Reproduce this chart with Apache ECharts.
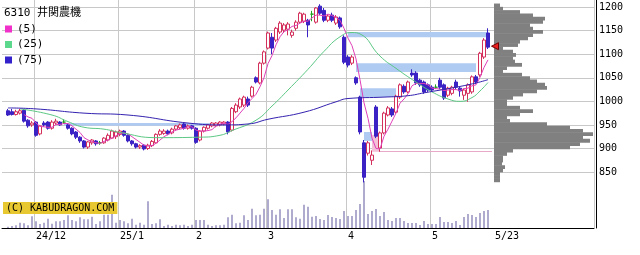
<!DOCTYPE html>
<html><head><meta charset="utf-8">
<script src="https://cdn.jsdelivr.net/npm/echarts@6/dist/echarts.min.js"></script>
<style>html,body{margin:0;padding:0;background:#fff}#c{width:640px;height:255px}</style>
</head><body><div id="c"></div><script>
const dates = ['11/21','11/22','11/25','11/26','11/27','11/28','11/29',
'12/2','12/3','12/4','12/5','12/6','12/9','12/10','12/11','12/12','12/13','12/16','12/17','12/18','12/19','12/20','12/23','12/24','12/25','12/26','12/27','12/30',
'1/6','1/7','1/8','1/9','1/10','1/14','1/15','1/16','1/17','1/20','1/21','1/22','1/23','1/24','1/27','1/28','1/29','1/30','1/31',
'2/3','2/4','2/5','2/6','2/7','2/10','2/12','2/13','2/14','2/17','2/18','2/19','2/20','2/21','2/25','2/26','2/27','2/28',
'3/3','3/4','3/5','3/6','3/7','3/10','3/11','3/12','3/13','3/14','3/17','3/18','3/19','3/21','3/24','3/25','3/26','3/27','3/28','3/31',
'4/1','4/2','4/3','4/4','4/7','4/8','4/9','4/10','4/11','4/14','4/15','4/16','4/17','4/18','4/21','4/22','4/23','4/24','4/25','4/28','4/30',
'5/1','5/2','5/7','5/8','5/9','5/12','5/13','5/14','5/15','5/16','5/19','5/20','5/21','5/22','5/23'];

const open  = [980,978,972,975,981,960,950,956,931,954, 956,943,954,956,956,950,943,935,924,916, 903,912,916,912,912,918,922,925,930,937,
 928,916,910,903,907,900,906,912,930,932, 937,933,941,944,952,943,948,943,918,937, 943,948,948,950,952,956,939,978,988,992,
 1005,1011,1050,1039,1081,1113,1136,1130,1147,1151, 1153,1140,1155,1168,1170,1172,1185,1168,1202,1193, 1172,1183,1166,1177,1136,1094,1081,1050,1009,912,
 890,875,988,901,933,971,984,977,1009,1032, 1020,1060,1060,1045,1041,1035,1030,1030,1045,1035, 1013,1017,1041,1028,1013,1017,1020,1052,1056,1094,1145];
const close = [971,972,978,980,958,948,954,928,948,950, 943,956,958,950,956,943,931,924,916,903, 914,918,910,912,922,928,937,935,937,928,
 916,910,903,906,899,907,915,930,937,937, 931,941,948,950,943,948,943,913,937,945, 950,954,954,956,956,935,985,992,1005,1009,
 992,1030,1041,1081,1105,1145,1113,1155,1166,1162, 1164,1147,1168,1187,1185,1162,1185,1198,1187,1172, 1181,1172,1179,1158,1083,1077,1094,1039,935,839,
 912,886,926,933,975,986,971,1011,1035,1020, 1041,1056,1039,1035,1020,1024,1024,1030,1030,1007, 1028,1030,1030,1022,1024,1035,1052,1041,1102,1130,1115];
const low   = [969,970,970,972,955,944,946,925,928,946, 940,940,950,948,952,940,928,920,912,900, 899,908,906,908,910,915,920,920,926,925,
 913,906,900,899,896,897,903,910,927,929, 928,930,938,941,940,940,940,910,915,934, 940,945,945,947,949,930,936,975,984,988,
 988,1008,1038,1036,1078,1110,1100,1126,1143,1145, 1140,1135,1150,1165,1166,1136,1170,1165,1183,1168, 1168,1168,1162,1154,1079,1072,1077,1035,930,828,
 885,865,922,893,930,968,967,974,1005,1016, 1017,1052,1035,1031,1016,1020,1020,1026,1026,1003, 1009,1013,1026,1010,1003,999,1016,1037,1052,1090,1111];
const high  = [984,984,982,984,984,962,958,958,950,958, 958,960,963,958,962,952,945,937,926,918, 916,920,918,916,924,932,940,938,940,939,
 930,918,912,909,909,910,918,932,941,941, 940,944,950,953,954,951,950,945,939,947, 952,956,956,958,958,958,988,996,1008,1012,
 1010,1033,1053,1084,1108,1148,1145,1158,1170,1166, 1168,1152,1172,1190,1188,1175,1192,1200,1206,1198, 1185,1188,1183,1180,1140,1098,1098,1053,1012,918,
 916,896,992,936,978,990,988,1014,1038,1036, 1044,1068,1064,1048,1044,1038,1034,1036,1050,1038, 1031,1033,1046,1032,1027,1038,1055,1056,1105,1134,1155];
const volume = [1.3,2,2.7,5.3,4.7,2.7,11.7,6.7,4,5.3, 9.3,4.3,6.7,6.7,8,12.7,8,6.7,10.7,8.7,
 8.7,11.3,4,6.7,13.3,13.3,33.3,5.3,8,6.7, 4.7,9.3,3.3,5.3,3.3,26.7,4,4.7,8.7,2,
 3.3,2,3.3,2.7,3.3,2,3.3,8,8,8, 3.3,2,2.7,2.7,3.3,10.7,13.3,4.7,5.3,12.7,
 8,19.3,12.7,13.3,19.3,28.7,18,13.3,18.7,10, 18.7,18.7,10.7,9.3,23.3,21.3,11.3,12,9,8,
 13,11,10,9,17,12,12,18,24,47, 14,17,19,12,16,8,7,10,10,7,
 5,5,5,3,7,4,4,4,11,6, 6,5,7,3,11,14,13,11,15,17,18];
const ma5 = ['-','-','-','-',972,967,964,954,947,946, 945,945,951,951,953,953,948,941,934,923, 918,915,912,911,915,918,922,927,932,933,
 931,925,919,913,907,905,906,911,918,925, 930,935,939,941,943,946,946,939,937,937, 938,940,948,952,954,951,957,965,975,985,
 997,1006,1015,1031,1050,1080,1097,1120,1137,1148, 1152,1159,1161,1166,1170,1170,1177,1183,1183,1181, 1185,1182,1178,1172,1155,1134,1118,1090,1046,997,
 964,922,900,899,926,941,958,975,996,1005, 1016,1033,1038,1038,1038,1035,1028,1027,1026,1023, 1024,1025,1025,1023,1027,1028,1033,1035,1051,1072,1088];
const ma25Idx = [3,11,15,19,24,28,37,48,53,56,62,66,70,75,79,83,86,88,93,97,102,106,110,113,116,118,120];
const ma25Val = [984,971,957,945,941,934,923,924,928,938,960,990,1024,1068,1106,1137,1146,1143,1096,1070,1041,1020,1005,1000,1008,1022,1040];
const ma75Idx = [0,7,19,30,45,54,60,65,74,82,85,94,100,104,112,117,120];
const ma75Val = [986,984,975,971,954,950,952,962,977,999,1006,1009,1012,1018,1030,1039,1046];
const tickDates = ['12/2','1/6','2/3','3/3','4/1','5/1','5/23'];
const tickTexts = ['24/12','25/1','2','3','4','5','5/23'];
const priceMin = 850, priceMax = 1215, priceStep = 50;
const bandStart = [14,85,87,88,89];
const bandEnd   = [55,120,117,97,91];
const bandTop   = [954,1147,1081,1028,935];
const bandBottom= [948,1136,1062,1009,916];
const pinkArea = [91,93,929,893];
const supportLine = [93,121,895];
const lastMark = 1117;
const profilePrice = [1204,1197,1190,1183,1176,1169,1162,1155,1148,1141,1134,1127,1120,1113,1106,1099,1092,1085,1078,1071,1064,1057,1050,1043,1036,1029,1022,1015,1008,1001,994,987,980,973,966,959,952,945,938,931,924,917,910,903,896,889,882,875,868,861,854,847,840,833];
const profileVol = [6,9,26,39,51,49,36,39,49,39,34,26,24,9,19,22,19,21,28,13,9,28,36,43,51,53,43,29,19,13,13,26,39,26,13,16,53,76,89,99,89,96,86,76,19,13,9,9,8,11,9,6,6,6];

const FONT = "'DejaVu Sans Mono','Noto Sans CJK JP',monospace";
const PAD_END = 26;
const cats = ['_s'].concat(dates);
for (let k = 0; k < PAD_END; k++) cats.push('_e' + k);

const candle = dates.map((d, i) => [i + 1, open[i], close[i], low[i], high[i]]);
const volData = volume.map((v, i) => [i + 1, v]);
const ma5Data = ma5.map((v, i) => [i + 1, v]);
const ma25Data = ma25Idx.map((k, j) => [k + 1, ma25Val[j]]);
const ma75Data = ma75Idx.map((k, j) => [k + 1, ma75Val[j]]);
const profData = profilePrice.map((p, j) => [profileVol[j], p]);
const bands = bandStart.map((s, j) => [{coord: [s + 1, bandTop[j]]}, {coord: [bandEnd[j] + 1, bandBottom[j]]}]);
bands.push([{coord: [pinkArea[0] + 1, pinkArea[2]], itemStyle: {color: '#f3c2d8'}}, {coord: [pinkArea[1] + 1, pinkArea[3]]}]);

const PRICE_H = 172.06;
const chart = echarts.init(document.getElementById('c'), null, {renderer: 'canvas'});
chart.setOption({
  animation: false,
  backgroundColor: '#ffffff',
  title: [
    {text: '6310 井関農機', left: 4, top: 8, padding: 0,
     textStyle: {fontSize: 11, fontWeight: 'normal', color: '#000', fontFamily: FONT}},
    {text: '(C) KABUDRAGON.COM', left: 3, top: 202, padding: [1, 3, 0, 3], backgroundColor: '#e8c830',
     textStyle: {fontSize: 10, fontWeight: 'normal', color: '#000', fontFamily: FONT, lineHeight: 11}}
  ],
  legend: {orient: 'vertical', left: 5, top: 23, padding: 0, icon: 'rect', itemWidth: 7, itemHeight: 7,
    itemGap: 3.5, selectedMode: false, data: ['(5)', '(25)', '(75)'],
    textStyle: {fontSize: 11, fontFamily: FONT, color: '#000', lineHeight: 12}},
  grid: [
    {left: 2, right: 46, top: 0, bottom: 27},
    {left: 2, right: 46, top: 0, height: PRICE_H},
    {left: 494, right: 44, top: 0, height: PRICE_H}
  ],
  xAxis: [
    {gridIndex: 0, type: 'category', data: cats, boundaryGap: true,
     axisLine: {lineStyle: {color: '#000', width: 1}}, axisTick: {show: false},
     splitLine: {show: true, interval: (idx, val) => { const k = tickDates.indexOf(val); return k >= 0 && k < tickDates.length - 1; },
       lineStyle: {color: '#c8c8c8', width: 1}},
     axisLabel: {interval: 0, align: 'left', margin: 3, fontSize: 10, fontFamily: FONT, color: '#000',
       formatter: (val) => { const k = tickDates.indexOf(val); if (k < 0) return '';
         return k === tickDates.length - 1 ? '{e|' + tickTexts[k] + '}' : tickTexts[k]; },
       rich: {e: {padding: [0, 0, 0, 7], fontSize: 10, fontFamily: FONT, color: '#000'}}}},
    {gridIndex: 1, type: 'category', data: cats, boundaryGap: true, show: false},
    {gridIndex: 2, type: 'value', min: 0, max: 102, show: false}
  ],
  yAxis: [
    {gridIndex: 0, type: 'value', min: 0, max: 228, position: 'right', offset: 2,
     axisLine: {show: true, lineStyle: {color: '#000'}}, axisTick: {show: false}, axisLabel: {show: false}, splitLine: {show: false}},
    {gridIndex: 1, type: 'value', min: priceMin, max: priceMax, interval: priceStep, position: 'right', offset: 2,
     axisLine: {show: false}, axisTick: {show: false},
     axisLabel: {margin: 3, fontSize: 10, fontFamily: FONT, color: '#000', showMaxLabel: false,
       formatter: (v) => (v % priceStep === 0 ? String(v) : '')},
     splitLine: {show: true, showMaxLine: false, lineStyle: {color: '#c8c8c8', width: 1}}},
    {gridIndex: 2, type: 'value', min: priceMin, max: priceMax, show: false}
  ],
  series: [
    {type: 'bar', name: 'vol', xAxisIndex: 0, yAxisIndex: 0, data: volData, barWidth: 1,
     itemStyle: {color: '#5e58a0'}},
    {type: 'candlestick', name: 'price', xAxisIndex: 1, yAxisIndex: 1, data: candle,
     encode: {x: 0, y: [1, 2, 3, 4]}, barWidth: 3, clip: false,
     itemStyle: {color: '#ffffff', color0: '#3a22c4', borderColor: '#d4305c', borderColor0: '#3a22c4',
       borderColorDoji: '#22a022', borderWidth: 1},
     markArea: {silent: true, itemStyle: {color: '#b0cbf2'}, data: bands},
     markLine: {silent: true, symbol: 'none', label: {show: false},
       lineStyle: {color: '#e8a8c8', width: 1, type: 'solid'},
       data: [[{coord: [supportLine[0] + 1, supportLine[2]]}, {coord: [supportLine[1] + 1, supportLine[2]]}]]},
     markPoint: {silent: true, data: [{coord: [dates.length, lastMark], symbol: 'triangle', symbolSize: [7, 7],
       symbolRotate: 90, symbolOffset: [7, 0], itemStyle: {color: '#e82020', borderColor: '#700000', borderWidth: 1},
       label: {show: false}}]}},
    {type: 'line', name: '(5)', xAxisIndex: 1, yAxisIndex: 1, data: ma5Data, showSymbol: false,
     lineStyle: {color: '#e040b8', width: 1}, itemStyle: {color: '#f030c8'}},
    {type: 'line', name: '(25)', xAxisIndex: 1, yAxisIndex: 1, data: ma25Data, showSymbol: false, smooth: true,
     lineStyle: {color: '#5cc884', width: 1}, itemStyle: {color: '#5cd88c'}},
    {type: 'line', name: '(75)', xAxisIndex: 1, yAxisIndex: 1, data: ma75Data, showSymbol: false, smooth: true,
     lineStyle: {color: '#3322b0', width: 1}, itemStyle: {color: '#3322cc'}},
    {type: 'custom', name: 'profile', xAxisIndex: 2, yAxisIndex: 2, data: profData, clip: false,
     renderItem: (params, api) => {
       const w = api.value(0), p = api.value(1);
       const j = params.dataIndex;
       const step = j + 1 < profilePrice.length ? profilePrice[j] - profilePrice[j + 1] : profilePrice[j - 1] - profilePrice[j];
       const a = api.coord([0, p + step / 2]);
       const b = api.coord([w, p - step / 2]);
       return {type: 'rect', shape: {x: a[0], y: a[1], width: b[0] - a[0], height: b[1] - a[1] + 0.5},
         style: {fill: '#808080'}};
     }}
  ]
});
</script></body></html>
